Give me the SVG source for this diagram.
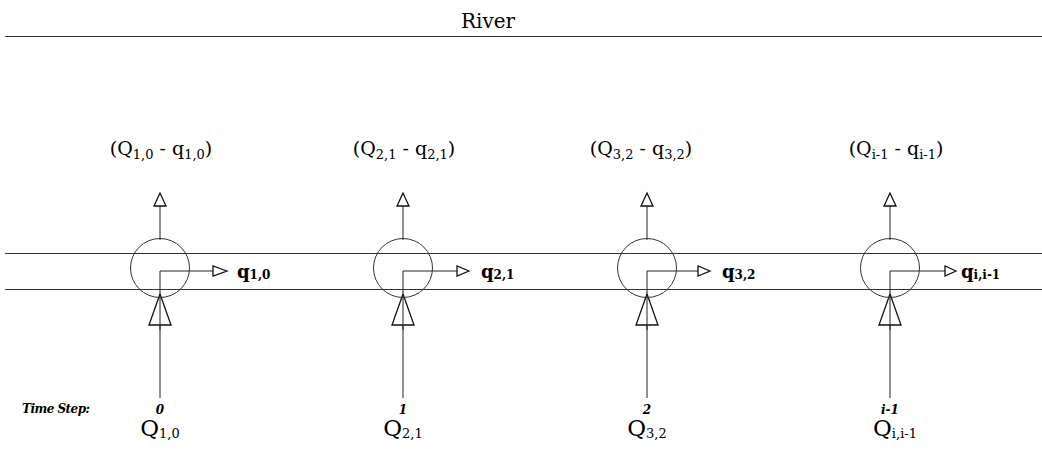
<svg xmlns="http://www.w3.org/2000/svg" width="1042" height="457" viewBox="0 0 1042 457" font-family="'DejaVu Serif','Liberation Serif',serif">
<defs>
<style>
.ln{stroke:#222;stroke-width:1;fill:none}
.riv{stroke:#333;stroke-width:1.2;fill:none}
.circ{stroke:#333;stroke-width:1;fill:none}
.tri{stroke:#111;stroke-width:1.3;fill:#fff;stroke-linejoin:miter}
.t{fill:#000}
.top{font-size:19px}
.sub{font-size:13px}
.q{font-size:18px;font-weight:bold}
.qs{font-size:12px}
.ts{font-size:12px;font-weight:bold;font-style:italic}
.bq{font-size:23px}
</style>
</defs>
<rect width="1042" height="457" fill="#fff"/>
<text class="t" x="488" y="28" font-size="20" text-anchor="middle">River</text>
<line class="riv" x1="5" y1="36.5" x2="1042" y2="36.5"/>
<g id="river-banks">
<line class="riv" x1="5" y1="253.5" x2="1042" y2="253.5"/>
<line class="riv" x1="5" y1="289.5" x2="1042" y2="289.5"/>
</g>
<text class="t ts" x="22" y="413" textLength="68">Time Step:</text>
<g id="connectors">
<line class="ln" x1="160" y1="240" x2="160" y2="196"/>
<polygon class="tri" points="160,193 154,206 166,206"/>
<polyline class="ln" points="160,293 160,271 213,271"/>
<polygon class="tri" points="227,271 213,266 213,276"/>
<line class="ln" x1="160" y1="398" x2="160" y2="294"/>
<polygon class="tri" points="160,294 149,325 171,325"/>
<line class="ln" x1="160" y1="294" x2="160" y2="330"/>
<line class="ln" x1="403" y1="240" x2="403" y2="196"/>
<polygon class="tri" points="403,193 397,206 409,206"/>
<polyline class="ln" points="403,293 403,271 457,271"/>
<polygon class="tri" points="469,271 457,266 457,276"/>
<line class="ln" x1="403" y1="398" x2="403" y2="294"/>
<polygon class="tri" points="403,294 392,325 414,325"/>
<line class="ln" x1="403" y1="294" x2="403" y2="330"/>
<line class="ln" x1="647" y1="240" x2="647" y2="196"/>
<polygon class="tri" points="647,193 641,206 653,206"/>
<polyline class="ln" points="647,293 647,271 698,271"/>
<polygon class="tri" points="710,271 698,266 698,276"/>
<line class="ln" x1="647" y1="398" x2="647" y2="294"/>
<polygon class="tri" points="647,294 636,325 658,325"/>
<line class="ln" x1="647" y1="294" x2="647" y2="330"/>
<line class="ln" x1="890" y1="240" x2="890" y2="196"/>
<polygon class="tri" points="890,193 884,206 896,206"/>
<polyline class="ln" points="890,293 890,271 945,271"/>
<polygon class="tri" points="956,271 945,266 945,276"/>
<line class="ln" x1="890" y1="398" x2="890" y2="294"/>
<polygon class="tri" points="890,294 879,325 901,325"/>
<line class="ln" x1="890" y1="294" x2="890" y2="330"/>
</g>
<g id="node1">
<circle class="circ" cx="160" cy="268" r="29.5"/>
<text class="t top" x="161" y="155" text-anchor="middle">(Q<tspan class="sub" dy="4">1,0</tspan><tspan dy="-4"> - q</tspan><tspan class="sub" dy="4">1,0</tspan><tspan dy="-4">)</tspan></text>
<text class="t q" x="237" y="278">q<tspan class="qs" dy="1">1,0</tspan></text>
<text class="t ts" x="160" y="414" text-anchor="middle">0</text>
<text class="t bq" x="160" y="436" text-anchor="middle">Q<tspan class="sub" dy="2">1,0</tspan></text>
</g>
<g id="node2">
<circle class="circ" cx="403" cy="268" r="29.5"/>
<text class="t top" x="404" y="155" text-anchor="middle">(Q<tspan class="sub" dy="4">2,1</tspan><tspan dy="-4"> - q</tspan><tspan class="sub" dy="4">2,1</tspan><tspan dy="-4">)</tspan></text>
<text class="t q" x="481" y="278">q<tspan class="qs" dy="1">2,1</tspan></text>
<text class="t ts" x="403" y="414" text-anchor="middle">1</text>
<text class="t bq" x="403" y="436" text-anchor="middle">Q<tspan class="sub" dy="2">2,1</tspan></text>
</g>
<g id="node3">
<circle class="circ" cx="647" cy="268" r="29.5"/>
<text class="t top" x="641" y="155" text-anchor="middle">(Q<tspan class="sub" dy="4">3,2</tspan><tspan dy="-4"> - q</tspan><tspan class="sub" dy="4">3,2</tspan><tspan dy="-4">)</tspan></text>
<text class="t q" x="722" y="278">q<tspan class="qs" dy="1">3,2</tspan></text>
<text class="t ts" x="647" y="414" text-anchor="middle">2</text>
<text class="t bq" x="647" y="436" text-anchor="middle">Q<tspan class="sub" dy="2">3,2</tspan></text>
</g>
<g id="node4">
<circle class="circ" cx="890" cy="268" r="29.5"/>
<text class="t top" x="896" y="155" text-anchor="middle">(Q<tspan class="sub" dy="4">i-1</tspan><tspan dy="-4"> - q</tspan><tspan class="sub" dy="4">i-1</tspan><tspan dy="-4">)</tspan></text>
<text class="t q" x="961" y="278">q<tspan class="qs" dy="1">i,i-1</tspan></text>
<text class="t ts" x="890" y="414" text-anchor="middle">i-1</text>
<text class="t bq" x="895" y="436" text-anchor="middle">Q<tspan class="sub" dy="2">i,i-1</tspan></text>
</g>
</svg>
